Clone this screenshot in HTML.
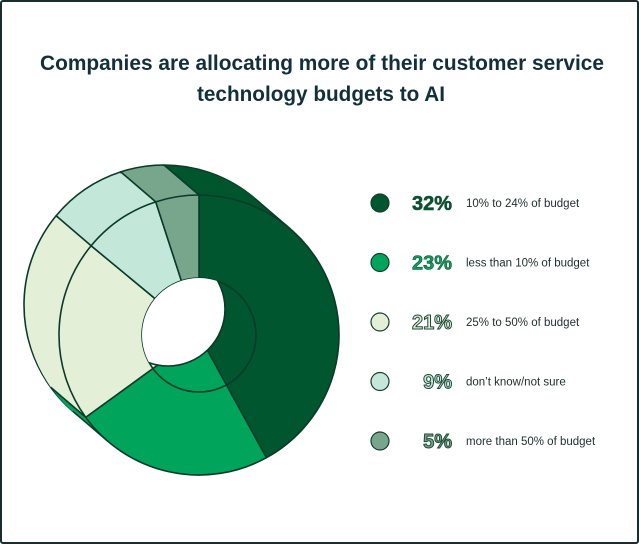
<!DOCTYPE html>
<html><head><meta charset="utf-8"><style>
html,body{margin:0;padding:0;background:#fff;}
#wrap{position:relative;width:639px;height:544px;box-sizing:border-box;border:2px solid #1c2b2b;border-radius:3px;overflow:hidden;background:#fff;}
svg{position:absolute;left:0;top:0;}
</style></head><body>
<div id="wrap">
<svg id="chart" width="639" height="544" viewBox="0 0 639 544">
  <text x="320" y="68" text-anchor="middle" textLength="564" lengthAdjust="spacingAndGlyphs" font-family="Liberation Sans, sans-serif" font-size="21" font-weight="bold" fill="#12303a">Companies are allocating more of their customer service</text>
  <text x="319" y="99" text-anchor="middle" textLength="248" lengthAdjust="spacingAndGlyphs" font-family="Liberation Sans, sans-serif" font-size="21" font-weight="bold" fill="#12303a">technology budgets to AI</text>
  <g id="pie"></g>
  <g id="legend"></g>
</svg>
</div>
<script>
// Data: slices drawn counter-clockwise from 12 o'clock; the first category fills the remainder
const categories = ["10% to 24% of budget","less than 10% of budget","25% to 50% of budget","don\u2019t know/not sure","more than 50% of budget"];
const values = [32, 23, 21, 9, 5];
const labels = ["32%","23%","21%","9%","5%"];
const colors = ["#00562e","#00a45a","#e4efd7","#c3e7d9","#77a68c"];

const NS = "http://www.w3.org/2000/svg";
const pie = document.getElementById("pie");
const front = {x:197, y:333}, back = {x:162, y:303};
const R = 140, RH = 57;
const stroke = "#0b3a2a";

// angle (deg, clockwise from top) for each slice: going CCW from top
function sliceAngles(){
  const res = [];
  let a = 360;
  for (let i = values.length - 1; i >= 1; i--) {
    const span = values[i] * 3.6;
    res[i] = [a - span, a];
    a -= span;
  }
  res[0] = [0, a];
  return res;
}
const angs = sliceAngles();
function pt(c, r, deg){ const t = deg*Math.PI/180; return [c.x + r*Math.sin(t), c.y - r*Math.cos(t)]; }
function wedge(c, a0, a1){
  const p0 = pt(c,R,a0), p1 = pt(c,R,a1);
  const large = (a1-a0) > 180 ? 1 : 0;
  return `M${c.x},${c.y} L${p0[0]},${p0[1]} A${R},${R} 0 ${large} 1 ${p1[0]},${p1[1]} Z`;
}
function addPath(d, fill, sw, name){
  const p = document.createElementNS(NS,"path");
  p.setAttribute("d", d);
  p.setAttribute("fill", fill);
  p.setAttribute("stroke", sw ? stroke : fill);
  p.setAttribute("stroke-width", sw ? sw : 0.6);
  p.setAttribute("stroke-linejoin","round");
  
  
  pie.appendChild(p);
  return p;
}
// back face
values.forEach((v,i)=>{ addPath(wedge(back, angs[i][0], angs[i][1]), colors[i], 1.6, "back-slice-"+i); });
// side walls (sweep)
const N = 24;
for (let s = 1; s < N; s++) {
  const t = s/N;
  const c = {x: back.x + (front.x-back.x)*t, y: back.y + (front.y-back.y)*t};
  values.forEach((v,i)=>{ addPath(wedge(c, angs[i][0], angs[i][1]), colors[i], 0, "side-slice-"+i); });
}
// side boundary lines at slice edges
values.forEach((v,i)=>{
  const a = pt(back,R,angs[i][0]), b = pt(front,R,angs[i][0]);
  const l = document.createElementNS(NS,"line");
  l.setAttribute("x1",a[0]);l.setAttribute("y1",a[1]);l.setAttribute("x2",b[0]);l.setAttribute("y2",b[1]);
  l.setAttribute("stroke",stroke);l.setAttribute("stroke-width",1.6);
  
  
  pie.appendChild(l);
});
// tangent outlines
[45+180-5, 45-5].forEach((deg,k)=>{
  const dx = front.x-back.x, dy = front.y-back.y, L = Math.hypot(dx,dy);
  const nx = -dy/L, ny = dx/L, sg = k ? 1 : -1;
  const l = document.createElementNS(NS,"line");
  l.setAttribute("x1",back.x+sg*nx*R);l.setAttribute("y1",back.y+sg*ny*R);
  l.setAttribute("x2",front.x+sg*nx*R);l.setAttribute("y2",front.y+sg*ny*R);
  l.setAttribute("stroke",stroke);l.setAttribute("stroke-width",1.6);
  
  
  pie.appendChild(l);
});
// front face
values.forEach((v,i)=>{ addPath(wedge(front, angs[i][0], angs[i][1]), colors[i], 1.6, "slice-"+categories[i].replace(/[^a-z0-9]+/gi,'-').toLowerCase()); });
// inner ring line
const ring = document.createElementNS(NS,"circle");
ring.setAttribute("cx",front.x);ring.setAttribute("cy",front.y);ring.setAttribute("r",RH);
ring.setAttribute("fill","none");ring.setAttribute("stroke",stroke);ring.setAttribute("stroke-width",1.6);


pie.appendChild(ring);
// hole: intersection of front and back hole circles
const defs = document.createElementNS(NS,"defs");
const cp = document.createElementNS(NS,"clipPath"); cp.setAttribute("id","holeclip");
const cc = document.createElementNS(NS,"circle"); cc.setAttribute("cx",front.x);cc.setAttribute("cy",front.y);cc.setAttribute("r",RH);
cp.appendChild(cc); defs.appendChild(cp); pie.appendChild(defs);
const hole = document.createElementNS(NS,"circle");
hole.setAttribute("cx",back.x+4);hole.setAttribute("cy",back.y+4);hole.setAttribute("r",RH);
hole.setAttribute("fill","#fff");hole.setAttribute("stroke",stroke);hole.setAttribute("stroke-width",1.6);
hole.setAttribute("clip-path","url(#holeclip)");


pie.appendChild(hole);

// legend
const leg = document.getElementById("legend");
const pctFill = ["#00562e","#00a45a","#e4efd7","#c3e7d9","#77a68c"];
values.forEach((v,i)=>{
  const y = 201 + i*59.5;
  const g = document.createElementNS(NS,"g");
  
  
  const c = document.createElementNS(NS,"circle");
  c.setAttribute("cx",378);c.setAttribute("cy",y);c.setAttribute("r",9);
  c.setAttribute("fill",colors[i]);c.setAttribute("stroke","#173d2e");c.setAttribute("stroke-width",1.2);
  
  
  g.appendChild(c);
  const t = document.createElementNS(NS,"text");
  t.setAttribute("x",450);t.setAttribute("y",y+7);t.setAttribute("text-anchor","end");
  t.setAttribute("font-family","Liberation Sans, sans-serif");t.setAttribute("font-size","20");t.setAttribute("font-weight","bold");
  t.setAttribute("fill",pctFill[i]);t.setAttribute("stroke","#1e4a36");t.setAttribute("stroke-width",i<2?0.6:1);
  t.textContent = labels[i];
  
  
  g.appendChild(t);
  const t2 = document.createElementNS(NS,"text");
  t2.setAttribute("x",464);t2.setAttribute("y",y+4);
  t2.setAttribute("font-family","Liberation Sans, sans-serif");t2.setAttribute("font-size","11.5");
  t2.setAttribute("fill","#1f2d2d");
  t2.textContent = categories[i];
  
  
  g.appendChild(t2);
  leg.appendChild(g);
});
</script>
</body></html>
